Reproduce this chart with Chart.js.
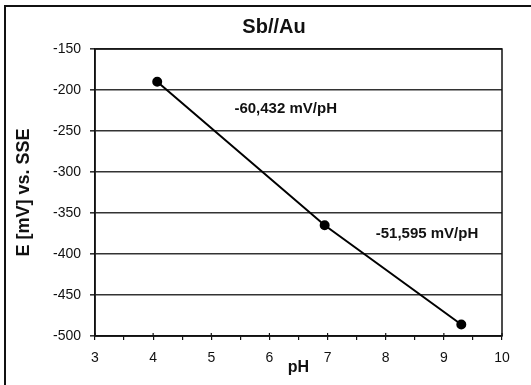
<!DOCTYPE html>
<html>
<head>
<meta charset="utf-8">
<script src="https://cdn.jsdelivr.net/npm/chart.js@4/dist/chart.umd.min.js"></script>
<style>
  html, body { margin: 0; padding: 0; background: #fff; overflow: hidden; }
  #wrap { position: relative; width: 531px; height: 385px; }
  #frame { position: absolute; left: 4px; top: 5px; width: 700px; height: 600px;
           border-left: 2px solid #111; border-top: 2px solid #111; pointer-events: none; }
  canvas { position: absolute; left: 0; top: 0; }
</style>
</head>
<body>
<div id="wrap">
  <canvas id="c" width="531" height="385"></canvas>
  <div id="frame"></div>
</div>
<script>
// ---- data ----
const chartTitle = 'Sb//Au';
const xAxisTitle = 'pH';
const yAxisTitle = 'E [mV] vs. SSE';
const phValues = [4.07, 6.95, 9.3];
const potentialValues = [-190, -365, -486];
const slopeLabels = ['-60,432 mV/pH', '-51,595 mV/pH'];
const slopeLabelX = [6.28, 8.71];
const slopeLabelY = [-222.6, -375.6];
const xMin = 3, xMax = 10, xStep = 0.5;
const yMin = -500, yMax = -150, yStep = 50;

const points = phValues.map((v, i) => ({ x: v, y: potentialValues[i] }));
const FONT = '"Liberation Sans", Arial, sans-serif';

const framePlugin = {
  id: 'plotFrame',
  afterDraw(chart) {
    const { ctx, chartArea: a, scales: { x } } = chart;
    ctx.save();
    ctx.strokeStyle = '#111';
    ctx.lineWidth = 1.5;
    ctx.strokeRect(a.left, a.top, a.right - a.left, a.bottom - a.top);
    // major x ticks cross the axis line slightly
    ctx.lineWidth = 1.2;
    x.ticks.forEach(t => {
      if (Number.isInteger(t.value)) {
        const px = x.getPixelForValue(t.value);
        ctx.beginPath();
        ctx.moveTo(px, a.bottom - 3);
        ctx.lineTo(px, a.bottom);
        ctx.stroke();
      }
    });
    ctx.restore();
  }
};

const slopePlugin = {
  id: 'slopeLabels',
  afterDatasetsDraw(chart) {
    const { ctx, scales: { x, y } } = chart;
    ctx.save();
    ctx.font = 'bold 15px ' + FONT;
    ctx.fillStyle = '#111';
    ctx.textAlign = 'center';
    ctx.textBaseline = 'middle';
    slopeLabels.forEach((t, i) => {
      ctx.fillText(t, x.getPixelForValue(slopeLabelX[i]), y.getPixelForValue(slopeLabelY[i]));
    });
    ctx.restore();
  }
};

new Chart(document.getElementById('c'), {
  type: 'scatter',
  data: {
    datasets: [{
      data: points,
      showLine: true,
      borderColor: '#000',
      borderWidth: 2,
      backgroundColor: '#000',
      pointBackgroundColor: '#000',
      pointBorderColor: '#000',
      pointRadius: 4,
      pointHoverRadius: 4
    }]
  },
  options: {
    responsive: false,
    animation: false,
    devicePixelRatio: 1,
    layout: { padding: { left: 46, right: 29, top: 0, bottom: 0 } },
    plugins: {
      legend: { display: false },
      tooltip: { enabled: false },
      title: {
        display: true,
        text: chartTitle,
        color: '#111',
        font: { family: FONT, size: 20, weight: 'bold' },
        padding: { top: 15, bottom: 10 }
      }
    },
    scales: {
      x: {
        type: 'linear',
        min: xMin, max: xMax,
        afterFit(s) { s.height = 49; },
        ticks: {
          stepSize: xStep,
          autoSkip: false,
          maxRotation: 0,
          padding: 10,
          color: '#111',
          font: { family: FONT, size: 14 },
          callback: v => Number.isInteger(v) ? String(v) : ''
        },
        grid: { drawOnChartArea: false, drawTicks: true, tickLength: 4, color: '#111', lineWidth: 1.2 },
        border: { display: true, color: '#111', width: 1.5 },
        title: {
          display: true, text: xAxisTitle, color: '#111',
          font: { family: FONT, size: 16, weight: 'bold' },
          padding: { top: 0, bottom: 8 }
        }
      },
      y: {
        type: 'linear',
        min: yMin, max: yMax,
        afterFit(s) { s.width = 49; },
        ticks: {
          stepSize: yStep,
          padding: 9,
          color: '#111',
          font: { family: FONT, size: 14 }
        },
        grid: { color: '#333', lineWidth: 1.6, tickLength: 5, drawTicks: true },
        border: { display: true, color: '#111', width: 1.5 },
        title: {
          display: true, text: yAxisTitle, color: '#111',
          font: { family: FONT, size: 18, weight: 'bold' },
          padding: { top: -32.3, bottom: 0 }
        }
      }
    }
  },
  plugins: [framePlugin, slopePlugin]
});
</script>
</body>
</html>
